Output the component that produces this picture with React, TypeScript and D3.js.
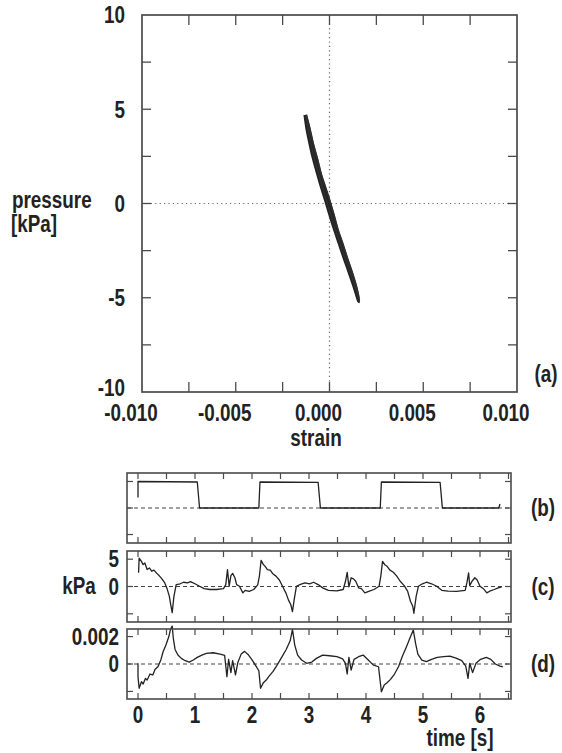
import React from 'react';
import * as d3 from 'd3';

// panel (a): pressure vs strain loop
const loopStrain = [-0.00128, -0.00110, -0.00092, -0.00070, -0.00047, -0.00024, -0.00003, 0.00019, 0.00041, 0.00065, 0.00094, 0.00118, 0.00139, 0.00156,
  0.00150, 0.00128, 0.00104, 0.00079, 0.00052, 0.00025, 0.00000, -0.00021, -0.00043, -0.00066, -0.00088, -0.00106, -0.00120, -0.00130];
const loopPressure = [4.7, 4.0, 3.2, 2.4, 1.5, 0.8, 0.15, -0.6, -1.4, -2.1, -3.0, -3.7, -4.4, -5.2,
  -5.0, -4.3, -3.6, -2.9, -2.1, -1.3, -0.5, 0.2, 0.9, 1.7, 2.5, 3.3, 4.0, 4.7];
const strainTicks = [-0.01, -0.005, 0, 0.005, 0.01];
const strainTickLabels = ['-0.010', '-0.005', '0.000', '0.005', '0.010'];
const pressureTicks = [10, 5, 0, -5, -10];

// panel (b): drive signal
const bTime = [0.0, 0.0, 1.04, 1.08, 2.12, 2.14, 3.16, 3.2, 4.25, 4.27, 5.3, 5.34, 6.33, 6.35];
const bValue = [0.4, 1.0, 0.98, 0, 0, 0.98, 0.97, 0, 0, 0.98, 0.97, 0, 0, 0.15];

// panel (c): pressure [kPa]
const cTime = [0.01, 0.02, 0.06, 0.09, 0.12, 0.16, 0.20, 0.24, 0.28, 0.33, 0.37, 0.42, 0.47, 0.51, 0.55, 0.57, 0.60, 0.63, 0.67, 0.74, 0.80, 0.87, 0.92, 1.00, 1.08, 1.16, 1.26, 1.38, 1.50, 1.54, 1.57, 1.60, 1.63, 1.66, 1.70, 1.73, 1.78, 1.84, 1.88, 1.95, 2.03, 2.10, 2.13, 2.16, 2.20, 2.23, 2.27, 2.32, 2.36, 2.42, 2.48, 2.54, 2.60, 2.64, 2.68, 2.71, 2.74, 2.78, 2.85, 2.93, 3.01, 3.08, 3.16, 3.24, 3.34, 3.49, 3.60, 3.64, 3.67, 3.70, 3.74, 3.78, 3.82, 3.87, 3.92, 3.98, 4.06, 4.14, 4.23, 4.26, 4.29, 4.33, 4.37, 4.42, 4.48, 4.54, 4.60, 4.67, 4.73, 4.78, 4.82, 4.84, 4.88, 4.92, 4.99, 5.06, 5.15, 5.24, 5.33, 5.44, 5.59, 5.74, 5.77, 5.80, 5.82, 5.86, 5.91, 5.95, 6.00, 6.06, 6.12, 6.17, 6.25, 6.32, 6.38];
const cPressure = [2.5, 5.2, 4.6, 4.0, 4.3, 3.1, 3.4, 2.8, 3.0, 2.4, 2.0, 1.4, 0.66, -0.4, -1.8, -3.1, -4.8, -1.8, 0.35, 0.5, 0.78, 0.66, 0.9, 0.5, 0.05, -0.4, -0.55, -0.55, -0.4, 0.35, 3.1, 0.05, 2.0, 2.4, 1.6, 0.35, 0.05, -1.16, -0.7, -0.9, -0.55, 0.3, 1.9, 4.8, 4.0, 3.7, 3.1, 3.0, 2.4, 1.9, 1.2, -0.06, -1.3, -2.5, -3.3, -4.6, -2.4, 0.05, 0.4, 0.66, 0.5, 0.78, 0.35, -0.25, -0.7, -0.8, -0.55, 0.96, 2.6, -0.06, 1.6, 1.4, 0.96, -0.25, -0.4, -1.16, -0.86, -0.55, 0.05, 1.9, 4.6, 4.0, 3.7, 3.0, 2.6, 1.9, 0.96, 0.17, -0.86, -2.7, -3.6, -4.9, -1.8, 0.05, 0.5, 0.78, 0.5, 0.05, -0.7, -0.86, -0.9, -0.7, 0.66, 2.5, 0.17, 0.96, 1.6, 1.2, 0.05, -0.4, -1.16, -0.86, -0.55, -0.25, -0.06];

// panel (d): strain, in units of 0.001
const dTime = [0.0, 0.0, 0.02, 0.06, 0.09, 0.13, 0.16, 0.21, 0.26, 0.30, 0.35, 0.40, 0.44, 0.49, 0.54, 0.57, 0.60, 0.62, 0.65, 0.70, 0.76, 0.83, 0.90, 0.97, 1.04, 1.12, 1.20, 1.32, 1.44, 1.52, 1.56, 1.59, 1.63, 1.66, 1.71, 1.75, 1.81, 1.87, 1.94, 2.01, 2.07, 2.12, 2.15, 2.20, 2.25, 2.30, 2.37, 2.44, 2.52, 2.60, 2.67, 2.71, 2.75, 2.80, 2.87, 2.96, 3.05, 3.13, 3.24, 3.36, 3.49, 3.59, 3.64, 3.67, 3.70, 3.74, 3.79, 3.87, 3.95, 4.04, 4.13, 4.22, 4.27, 4.32, 4.37, 4.43, 4.50, 4.57, 4.64, 4.71, 4.78, 4.83, 4.87, 4.91, 4.98, 5.06, 5.15, 5.25, 5.36, 5.47, 5.58, 5.68, 5.75, 5.79, 5.82, 5.87, 5.93, 6.01, 6.11, 6.19, 6.27, 6.35, 6.40];
const dStrainMilli = [0.05, -0.93, -1.77, -1.29, -1.46, -1.05, -1.17, -0.73, -0.80, -0.39, -0.2, 0.29, 0.89, 1.38, 1.98, 2.52, 2.76, 1.86, 1.06, 0.65, 0.41, 0.24, 0.14, 0.29, 0.48, 0.65, 0.77, 0.82, 0.72, 0.63, -0.93, 0.34, -0.63, 0.24, -0.8, 0.09, 0.72, 0.92, 0.65, 0.24, -0.15, -0.49, -1.77, -1.36, -1.17, -0.88, -0.54, -0.08, 0.48, 1.06, 1.69, 2.52, 1.38, 0.65, 0.29, 0.05, 0.14, 0.41, 0.65, 0.60, 0.53, 0.38, 0.05, -0.73, 0.48, -0.44, 0.34, 0.53, 0.65, 0.29, -0.08, -0.2, -2.02, -1.53, -1.36, -1.12, -0.73, -0.2, 0.58, 1.26, 1.98, 2.47, 1.5, 0.72, 0.29, 0.17, 0.34, 0.48, 0.53, 0.58, 0.43, 0.24, -0.15, -1.05, 0.05, -0.63, 0.05, 0.34, 0.48, 0.34, 0.0, -0.15, -0.2];

const timeLabels = [0, 1, 2, 3, 4, 5, 6];

const FONT = '"Liberation Sans", Arial, sans-serif';
const FS = 23;
const SQUEEZE = 0.82; // the original lettering is a narrow bold sans
const INK = '#222';
const FRAME = '#4a4a4a';

type Pt = [number, number];
const zip = (xs: number[], ys: number[]): Pt[] => xs.map((x, i) => [x, ys[i]]);

// bold narrow text, anchored at (x, y)
function Label({ x, y, anchor = 'start', mid = false, children }: {
  x: number; y: number; anchor?: 'start' | 'middle' | 'end'; mid?: boolean; children: React.ReactNode;
}) {
  return (
    <text transform={`translate(${x},${y}) scale(${SQUEEZE},1)`} dy={mid ? '0.36em' : undefined}
      textAnchor={anchor} fontSize={FS} fontWeight="bold" fill={INK}>{children}</text>
  );
}

function TimePanel({ top, bottom, domain, yTicks, times, values, yLabels, tag, x }: {
  top: number; bottom: number; domain: [number, number]; yTicks: number[];
  times: number[]; values: number[]; yLabels: { v: number; text: string }[]; tag: string;
  x: d3.ScaleLinear<number, number>;
}) {
  const y = d3.scaleLinear().domain(domain).range([bottom, top]);
  const [x0, x1] = x.range();
  const line = d3.line<Pt>().x(d => x(d[0])).y(d => y(d[1]));
  const tTicks = d3.range(0, 6.51, 0.5);
  return (
    <g>
      <line x1={x0} x2={x1} y1={y(0)} y2={y(0)} stroke="#444" strokeWidth={1.1} strokeDasharray="4,3" />
      <path d={line(zip(times, values)) || ''} fill="none" stroke={INK} strokeWidth={1.3} strokeLinejoin="round" />
      <rect x={x0} y={top} width={x1 - x0} height={bottom - top} fill="none" stroke={FRAME} strokeWidth={1.6} />
      {tTicks.map(t => (
        <g key={t}>
          <line x1={x(t)} x2={x(t)} y1={top} y2={top + 6} stroke={FRAME} strokeWidth={1.2} />
          <line x1={x(t)} x2={x(t)} y1={bottom} y2={bottom - 6} stroke={FRAME} strokeWidth={1.2} />
        </g>
      ))}
      {yTicks.map(v => (
        <g key={v}>
          <line x1={x0} x2={x0 + 6} y1={y(v)} y2={y(v)} stroke={FRAME} strokeWidth={1.2} />
          <line x1={x1} x2={x1 - 6} y1={y(v)} y2={y(v)} stroke={FRAME} strokeWidth={1.2} />
        </g>
      ))}
      {yLabels.map(l => (
        <Label key={l.text} x={x0 - 8} y={y(l.v)} anchor="end" mid>{l.text}</Label>
      ))}
      <Label x={543} y={(top + bottom) / 2} anchor="middle" mid>{tag}</Label>
    </g>
  );
}

export default function App() {
  // panel (a)
  const ax = d3.scaleLinear().domain([-0.01, 0.01]).range([142, 517]);
  const ay = d3.scaleLinear().domain([-10, 10]).range([392, 15]);
  const loop = d3.line<Pt>().x(d => ax(d[0])).y(d => ay(d[1])).curve(d3.curveCatmullRom);
  const loopPts = zip(loopStrain, loopPressure);
  const minorX = d3.range(-0.0075, 0.0076, 0.0025);
  const minorY = d3.range(-7.5, 7.6, 2.5);

  // panels (b)-(d)
  const tx = d3.scaleLinear().domain([-0.193, 6.544]).range([127, 511]);

  return (
    <svg width={562} height={753} style={{ position: 'absolute', left: 0, top: 0, fontFamily: FONT }}>
      <rect width={562} height={753} fill="#fff" />

      {/* (a) */}
      <line x1={ax(-0.01)} x2={ax(0.01)} y1={ay(0)} y2={ay(0)} stroke="#666" strokeWidth={1.2} strokeDasharray="1.2,3.2" />
      <line x1={ax(0)} x2={ax(0)} y1={ay(10)} y2={ay(-10)} stroke="#666" strokeWidth={1.2} strokeDasharray="1.2,3.2" />
      <path d={loop(loopPts) || ''} fill="none" stroke={INK} strokeWidth={3.4} strokeLinejoin="round" />
      <path d={loop(loopPts.map(([s, p]) => [s + 0.00004, p] as Pt)) || ''} fill="none" stroke="#333" strokeWidth={1.5} opacity={0.8} />
      <rect x={ax(-0.01)} y={ay(10)} width={ax(0.01) - ax(-0.01)} height={ay(-10) - ay(10)} fill="none" stroke={FRAME} strokeWidth={1.7} />
      {minorX.map(s => (
        <g key={s}>
          <line x1={ax(s)} x2={ax(s)} y1={ay(10)} y2={ay(10) + 10} stroke={FRAME} strokeWidth={1.3} />
          <line x1={ax(s)} x2={ax(s)} y1={ay(-10)} y2={ay(-10) - 10} stroke={FRAME} strokeWidth={1.3} />
        </g>
      ))}
      {minorY.map(p => (
        <g key={p}>
          <line x1={ax(-0.01)} x2={ax(-0.01) + 9} y1={ay(p)} y2={ay(p)} stroke={FRAME} strokeWidth={1.3} />
          <line x1={ax(0.01)} x2={ax(0.01) - 9} y1={ay(p)} y2={ay(p)} stroke={FRAME} strokeWidth={1.3} />
        </g>
      ))}
      {pressureTicks.map(p => (
        <Label key={p} x={125} y={ay(p) - (p === -10 ? 4 : 0)} anchor="end" mid>{p}</Label>
      ))}
      {strainTicks.map((s, i) => (
        <Label key={s} x={ax(s) - 11} y={421} anchor="middle">{strainTickLabels[i]}</Label>
      ))}
      <Label x={316} y={446} anchor="middle">strain</Label>
      <Label x={12} y={208}>pressure</Label>
      <Label x={11} y={232}>[kPa]</Label>
      <Label x={546} y={374} anchor="middle" mid>(a)</Label>

      <TimePanel top={473} bottom={543} domain={[-1.32, 1.32]} yTicks={[-1, 0, 1]} times={bTime} values={bValue} yLabels={[]} tag="(b)" x={tx} />
      <TimePanel top={551} bottom={622} domain={[-6.5, 6.5]} yTicks={[-5, 0, 5]} times={cTime} values={cPressure}
        yLabels={[{ v: 5, text: '5' }, { v: 0, text: '0' }]} tag="(c)" x={tx} />
      <TimePanel top={629} bottom={699} domain={[-0.00255, 0.00255]} yTicks={[-0.002, 0, 0.002]} times={dTime} values={dStrainMilli.map(v => v / 1000)}
        yLabels={[{ v: 0.002, text: '0.002' }, { v: 0, text: '0' }]} tag="(d)" x={tx} />
      <Label x={79} y={586} anchor="middle" mid>kPa</Label>

      {timeLabels.map(t => (
        <Label key={t} x={tx(t)} y={723} anchor="middle">{t}</Label>
      ))}
      <Label x={460} y={746} anchor="middle">time [s]</Label>
    </svg>
  );
}
